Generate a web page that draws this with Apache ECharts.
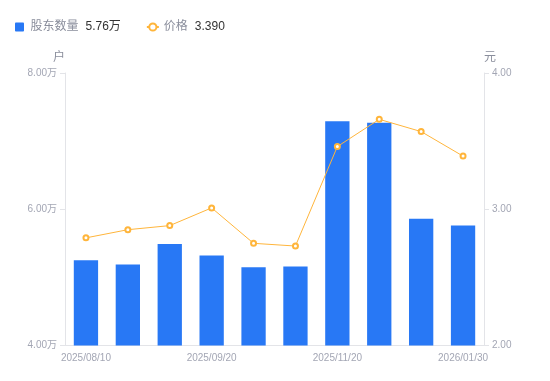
<!DOCTYPE html>
<html>
<head>
<meta charset="utf-8">
<script src="https://cdn.jsdelivr.net/npm/echarts@6/dist/echarts.min.js"></script>
<style>
html,body{margin:0;padding:0;background:#fff;}
#main{width:550px;height:381px;}
</style>
</head>
<body>
<div id="main"></div>
<script>
var categories = ['2025/08/10','2025/08/20','2025/08/31','2025/09/20','2025/09/30','2025/10/31','2025/11/20','2025/12/10','2025/12/31','2026/01/30'];
var holders = [5.25, 5.19, 5.49, 5.32, 5.15, 5.16, 7.29, 7.27, 5.86, 5.76];
var prices = [2.79, 2.85, 2.88, 3.01, 2.75, 2.73, 3.46, 3.66, 3.57, 3.39];
var leftTicks = [4, 6, 8];
var rightTicks = [2, 3, 4];

var FONT = '"Liberation Sans", "Noto Sans CJK SC", sans-serif';
var chart = echarts.init(document.getElementById('main'));
var lastHolders = holders[holders.length - 1].toFixed(2) + '万';
var lastPrice = prices[prices.length - 1].toFixed(3);

chart.setOption({
  animation: false,
  textStyle: { fontFamily: FONT },
  legend: {
    left: 15,
    top: 21,
    padding: 0,
    itemWidth: 12,
    itemHeight: 9,
    itemGap: 25,
    data: [
      { name: '股东数量', icon: 'path://M1 0H9Q10 0 10 1V9Q10 10 9 10H1Q0 10 0 9V1Q0 0 1 0Z' },
      { name: '价格' }
    ],
    formatter: function (name) {
      var v = name === '股东数量' ? lastHolders : lastPrice;
      return '{n|' + name + '}{v|' + v + '}';
    },
    textStyle: {
      rich: {
        n: { color: '#8a8e9c', fontSize: 12, fontFamily: FONT, padding: [0, 7, 0, 0] },
        v: { color: '#333333', fontSize: 12, fontFamily: FONT }
      }
    }
  },
  grid: { left: 65, right: 66, top: 73, bottom: 35.5 },
  xAxis: {
    type: 'category',
    data: categories,
    axisLine: { lineStyle: { color: '#e3e4e8' } },
    axisTick: { show: false },
    axisLabel: { interval: 2, color: '#a3a6b4', fontSize: 10, margin: 8 }
  },
  yAxis: [
    {
      type: 'value',
      name: '户',
      nameGap: 9,
      nameTextStyle: { color: '#8a8e9c', fontSize: 12, align: 'right' },
      min: leftTicks[0],
      max: leftTicks[leftTicks.length - 1],
      interval: 2,
      axisLine: { show: true, lineStyle: { color: '#e3e4e8' } },
      axisTick: { show: true, length: 5, lineStyle: { color: '#e3e4e8' } },
      splitLine: { show: false },
      axisLabel: { color: '#a3a6b4', fontSize: 10, margin: 8, formatter: function (v) { return v.toFixed(2) + '万'; } }
    },
    {
      type: 'value',
      name: '元',
      nameGap: 9,
      nameTextStyle: { color: '#8a8e9c', fontSize: 12, align: 'left' },
      min: rightTicks[0],
      max: rightTicks[rightTicks.length - 1],
      interval: 1,
      axisLine: { show: true, lineStyle: { color: '#e3e4e8' } },
      axisTick: { show: true, length: 5, lineStyle: { color: '#e3e4e8' } },
      splitLine: { show: false },
      axisLabel: { color: '#a3a6b4', fontSize: 10, margin: 8, formatter: function (v) { return v.toFixed(2); } }
    }
  ],
  series: [
    {
      name: '股东数量',
      type: 'bar',
      yAxisIndex: 0,
      data: holders,
      barWidth: '58%',
      itemStyle: { color: '#2878f5' }
    },
    {
      name: '价格',
      type: 'line',
      yAxisIndex: 1,
      data: prices,
      symbol: 'emptyCircle',
      symbolSize: 5,
      lineStyle: { color: '#ffb53b', width: 1 },
      itemStyle: { color: '#ffb53b', borderWidth: 1.5 }
    }
  ]
});
</script>
</body>
</html>
